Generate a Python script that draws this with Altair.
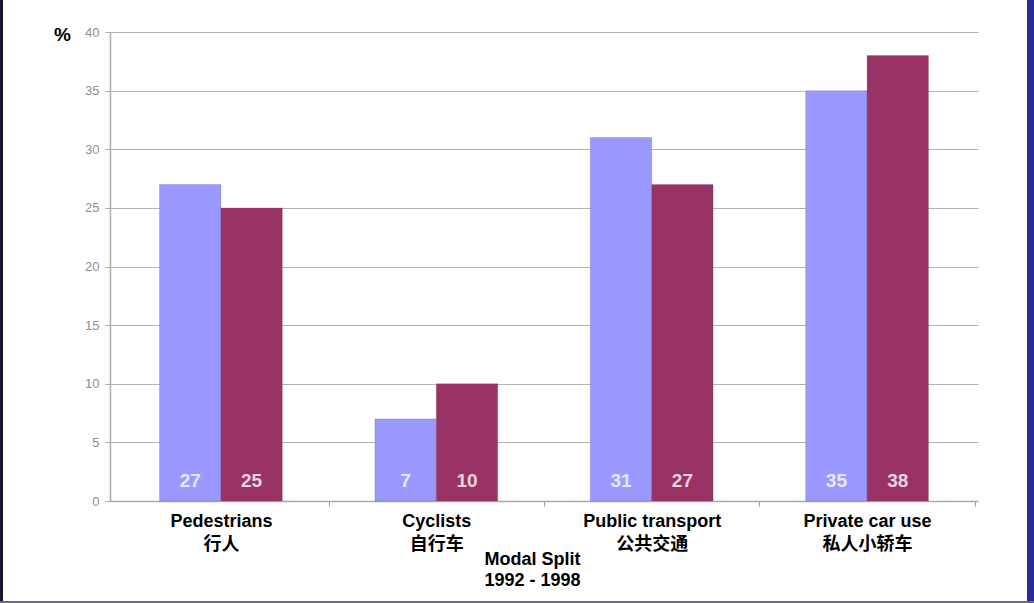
import altair as alt
import pandas as pd

categories = ["Pedestrians|行人", "Cyclists|自行车", "Public transport|公共交通", "Private car use|私人小轿车"]
years = ["1992", "1998"]
values_1992 = [27, 7, 31, 35]
values_1998 = [25, 10, 27, 38]
y_ticks = [0, 5, 10, 15, 20, 25, 30, 35, 40]

rows = []
for c, a, b in zip(categories, values_1992, values_1998):
    rows.append({"cat": c, "year": years[0], "value": a})
    rows.append({"cat": c, "year": years[1], "value": b})
df = pd.DataFrame(rows)

FONT = "Liberation Sans, Noto Sans CJK SC, sans-serif"
HALF_STEP = 868 / (4 - 0.43 + 2 * 0.23) / 2

x_enc = alt.X(
    "cat:N", sort=categories,
    scale=alt.Scale(paddingInner=0.43, paddingOuter=0.23),
    axis=alt.Axis(
        labelExpr="split(datum.label, '|')",
        labelAngle=0, labelFont=FONT, labelFontSize=18, labelFontWeight="bold",
        labelColor="#000000", labelLineHeight=23, labelPadding=6,
        tickOffset=HALF_STEP, labelOffset=-HALF_STEP,
        tickColor="#999999", tickSize=5,
        domainColor="#aaaaaa", domainWidth=1.5, grid=False,
        title=["Modal Split", "1992 - 1998"], titleFont=FONT, titleFontSize=18,
        titleFontWeight="bold", titleColor="#000000", titleLineHeight=21,
        titleX=422, titleY=49, titleBaseline="top", titleAlign="center",
    ),
)
y_enc = alt.Y(
    "value:Q", scale=alt.Scale(domain=[0, 40], nice=False),
    axis=alt.Axis(
        values=y_ticks, labelFont=FONT, labelFontSize=13, labelColor="#8e8e8e",
        labelPadding=6, tickSize=5, tickColor="#aaaaaa", domainColor="#aaaaaa",
        domainWidth=1.5, gridColor="#b4b4b4", gridWidth=1.2,
        title="%", titleAngle=0, titleFont=FONT, titleFontSize=19,
        titleFontWeight="bold", titleColor="#000000", titleX=-48, titleY=2,
        titleAlign="center", titleBaseline="middle",
    ),
)
color_scale = alt.Scale(domain=years, range=["#9999FF", "#993366"])

bars = alt.Chart(df).mark_bar(stroke="#5a3050", strokeWidth=0.4, strokeOpacity=0.5).encode(
    x=x_enc,
    xOffset=alt.XOffset("year:N", sort=years, scale=alt.Scale(paddingInner=0, paddingOuter=0)),
    y=y_enc,
    color=alt.Color("year:N", scale=color_scale, legend=None),
)

labels = alt.Chart(df).mark_text(
    font=FONT, fontSize=19, fontWeight="bold", baseline="bottom", dy=-10,
    color="#ffffff", opacity=0.78,
).encode(
    x=alt.X("cat:N", sort=categories),
    xOffset=alt.XOffset("year:N", sort=years),
    y=alt.datum(0),
    text="value:Q",
)

frame = pd.DataFrame({"side": ["left", "right"]})
left_edge = alt.Chart(frame.iloc[:1]).mark_rule(color="#141438", strokeWidth=3).encode(
    x=alt.value(-108.5), y=alt.value(-32), y2=alt.value(571)
)
right_edge = alt.Chart(frame.iloc[1:]).mark_rule(color="#2a2a98", strokeWidth=7).encode(
    x=alt.value(920.5), y=alt.value(-32), y2=alt.value(571)
)
bottom_edge = alt.Chart(frame.iloc[:1]).mark_rule(color="#6a6a7a", strokeWidth=2).encode(
    x=alt.value(-110), x2=alt.value(924), y=alt.value(570)
)

chart = alt.layer(bars, labels, left_edge, right_edge, bottom_edge).properties(
    width=868, height=469,
    autosize=alt.AutoSizeParams(type="none"),
    padding={"left": 110, "top": 32, "right": 56, "bottom": 102},
    background="#ffffff",
).configure_view(stroke=None).resolve_scale(x="shared")

chart.save("out.html", embed_options={"renderer": "svg", "actions": False})
